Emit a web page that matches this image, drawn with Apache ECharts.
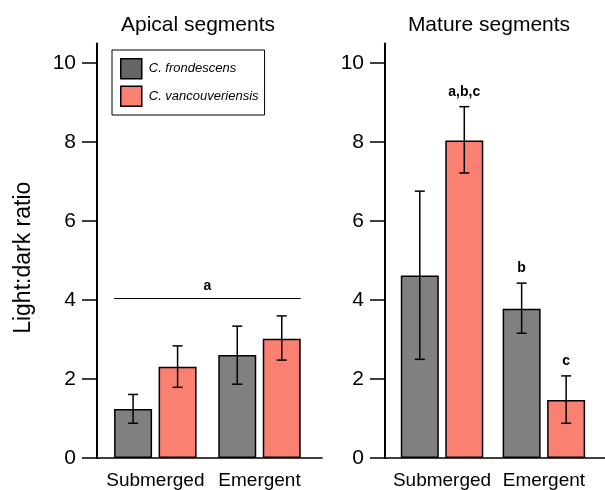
<!DOCTYPE html>
<html><head><meta charset="utf-8">
<script src="https://cdn.jsdelivr.net/npm/echarts@6/dist/echarts.min.js"></script>
<style>html,body{margin:0;padding:0;background:#fff}#c{width:605px;height:490px}</style>
</head><body><div id="c"></div>
<script>
// ---- data ----
const categories = ['Submerged', 'Emergent'];
const seriesNames = ['C. frondescens', 'C. vancouveriensis'];
const panelTitles = ['Apical segments', 'Mature segments'];
const yTicks = [0, 2, 4, 6, 8, 10];
const yAxisName = 'Light:dark ratio';

const apicalFrond = [1.24, 2.61];
const apicalFrondLow = [0.88, 1.87];
const apicalFrondHigh = [1.61, 3.34];
const apicalVanc = [2.31, 3.02];
const apicalVancLow = [1.79, 2.48];
const apicalVancHigh = [2.84, 3.60];
const apicalGroupLine = 4.04;
const apicalGroupLetter = 'a';

const matureFrond = [4.62, 3.78];
const matureFrondLow = [2.50, 3.16];
const matureFrondHigh = [6.76, 4.43];
const matureVanc = [8.04, 1.47];
const matureVancLow = [7.22, 0.88];
const matureVancHigh = [8.90, 2.08];
const matureFrondLetters = ['', 'b'];
const matureVancLetters = ['a,b,c', 'c'];

// ---- style ----
const FONT = '"Liberation Sans", Arial, Helvetica, sans-serif';
const GRAY = '#808080', SALMON = '#FA8072';
const BAR_W = 38, HALF_OFF = 22.25, CAP = 5;
const X_MIN = -0.56, X_MAX = 1.6;

const chart = echarts.init(document.getElementById('c'), null, {renderer: 'canvas'});

function barSeries(gi, name, vals, color) {
  return {
    type: 'bar', name: name, xAxisIndex: gi, yAxisIndex: gi,
    data: vals.map((v, i) => [i, v]),
    barWidth: BAR_W, barGap: ((2 * HALF_OFF - BAR_W) / BAR_W * 100).toFixed(1) + '%',
    itemStyle: {color: color, borderColor: '#000', borderWidth: 1.5},
    z: 2
  };
}

function errSeries(gi, lows, highs, side, letters) {
  return {
    type: 'custom', xAxisIndex: gi, yAxisIndex: gi, z: 5, silent: true,
    data: lows.map((l, i) => [i, l, highs[i]]),
    renderItem: function (params, api) {
      const x = api.value(0);
      const pLo = api.coord([x, api.value(1)]);
      const pHi = api.coord([x, api.value(2)]);
      const cx = pLo[0] + side * HALF_OFF;
      const ls = {stroke: '#000', lineWidth: 1.5};
      const children = [
        {type: 'line', shape: {x1: cx, y1: pLo[1], x2: cx, y2: pHi[1]}, style: ls},
        {type: 'line', shape: {x1: cx - CAP, y1: pLo[1], x2: cx + CAP, y2: pLo[1]}, style: ls},
        {type: 'line', shape: {x1: cx - CAP, y1: pHi[1], x2: cx + CAP, y2: pHi[1]}, style: ls}
      ];
      const letter = letters ? letters[params.dataIndex] : '';
      if (letter) {
        children.push({type: 'text', style: {text: letter, x: cx, y: pHi[1] - 14.5,
          align: 'center', verticalAlign: 'middle', fontFamily: FONT, fontWeight: 'bold',
          fontSize: 14, fill: '#000'}});
      }
      return {type: 'group', children: children};
    }
  };
}

function groupLineSeries(gi, y, letter) {
  return {
    type: 'custom', xAxisIndex: gi, yAxisIndex: gi, z: 5, silent: true,
    data: [[0, categories.length - 1, y]],
    renderItem: function (params, api) {
      const p0 = api.coord([api.value(0), api.value(2)]);
      const p1 = api.coord([api.value(1), api.value(2)]);
      const xa = p0[0] - HALF_OFF - BAR_W / 2, xb = p1[0] + HALF_OFF + BAR_W / 2;
      return {type: 'group', children: [
        {type: 'line', shape: {x1: xa, y1: p0[1], x2: xb, y2: p0[1]}, style: {stroke: '#000', lineWidth: 1}},
        {type: 'text', style: {text: letter, x: (xa + xb) / 2, y: p0[1] - 12, align: 'center',
          verticalAlign: 'middle', fontFamily: FONT, fontWeight: 'bold', fontSize: 14, fill: '#000'}}
      ]};
    }
  };
}

function xAxis(gi) {
  return {
    type: 'value', gridIndex: gi, min: X_MIN, max: X_MAX,
    axisLine: {show: true, onZero: false, lineStyle: {color: '#000', width: 1.5}},
    axisTick: {show: false}, splitLine: {show: false},
    axisLabel: {customValues: [0, 1], formatter: v => categories[Math.round(v)] || '',
      fontSize: 19, margin: 13, color: '#000', fontFamily: FONT}
  };
}
function yAxis(gi, withName) {
  const a = {
    type: 'value', gridIndex: gi, min: 0, max: 10.5,
    axisLine: {show: true, onZero: false, lineStyle: {color: '#000', width: 2}},
    axisTick: {show: true, length: 15, customValues: yTicks, lineStyle: {color: '#000', width: 1.5}},
    axisLabel: {customValues: yTicks, margin: 21, fontSize: 21, color: '#000', fontFamily: FONT},
    splitLine: {show: false}
  };
  if (withName) {
    a.name = yAxisName; a.nameLocation = 'middle'; a.nameGap = 62;
    a.nameTextStyle = {fontSize: 23, color: '#000', fontFamily: FONT, padding: [0, 14, 0, 0]};
  }
  return a;
}

const option = {
  animation: false,
  backgroundColor: '#fff',
  title: [
    {text: panelTitles[0], left: 193, top: 10, textAlign: 'center',
     textStyle: {fontSize: 21, fontWeight: 'normal', color: '#000', fontFamily: FONT}},
    {text: panelTitles[1], left: 484, top: 10, textAlign: 'center',
     textStyle: {fontSize: 21, fontWeight: 'normal', color: '#000', fontFamily: FONT}}
  ],
  legend: {
    orient: 'vertical', left: 112, top: 50, padding: [8, 6, 8, 8],
    itemWidth: 21, itemHeight: 20, itemGap: 6, icon: 'rect',
    borderColor: '#000', borderWidth: 1, borderRadius: 0,
    selectedMode: false,
    itemStyle: {borderColor: '#000', borderWidth: 1.5},
    textStyle: {fontStyle: 'italic', fontSize: 13, color: '#000', fontFamily: FONT, padding: [0, 0, 0, 2]},
    data: [{name: seriesNames[0], itemStyle: {color: '#666666'}}, {name: seriesNames[1]}]
  },
  grid: [
    {left: 97, top: 43.5, width: 225, height: 415.5},
    {left: 385, top: 43.5, width: 225, height: 415.5}
  ],
  xAxis: [xAxis(0), xAxis(1)],
  yAxis: [yAxis(0, true), yAxis(1, false)],
  series: [
    barSeries(0, seriesNames[0], apicalFrond, GRAY),
    barSeries(0, seriesNames[1], apicalVanc, SALMON),
    barSeries(1, seriesNames[0], matureFrond, GRAY),
    barSeries(1, seriesNames[1], matureVanc, SALMON),
    errSeries(0, apicalFrondLow, apicalFrondHigh, -1, null),
    errSeries(0, apicalVancLow, apicalVancHigh, 1, null),
    errSeries(1, matureFrondLow, matureFrondHigh, -1, matureFrondLetters),
    errSeries(1, matureVancLow, matureVancHigh, 1, matureVancLetters),
    groupLineSeries(0, apicalGroupLine, apicalGroupLetter)
  ]
};
chart.setOption(option);
</script></body></html>
